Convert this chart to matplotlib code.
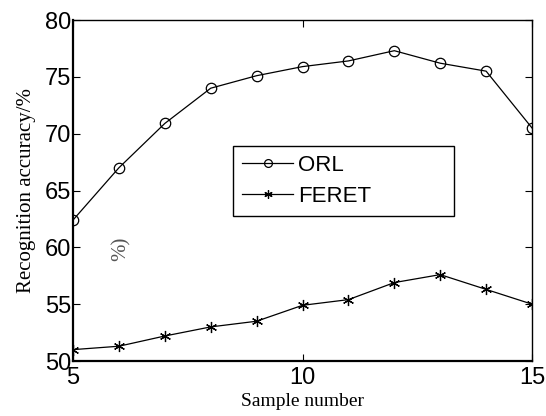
import matplotlib
matplotlib.use('Agg')
import matplotlib.pyplot as plt

# data
samples = [5, 6, 7, 8, 9, 10, 11, 12, 13, 14, 15]
orl = [62.4, 67.0, 70.9, 74.0, 75.1, 75.9, 76.4, 77.3, 76.2, 75.5, 70.5]
feret = [51.0, 51.3, 52.2, 53.0, 53.5, 54.9, 55.4, 56.9, 57.6, 56.3, 55.0]

xticks = [5, 10, 15]
yticks = [50, 55, 60, 65, 70, 75, 80]

fig = plt.figure(figsize=(5.46, 4.16), dpi=100)
ax = fig.add_axes([0.1337, 0.1322, 0.8407, 0.8197])

ax.plot(samples, orl, color='black', lw=0.9, marker='o', ms=7.5,
        mfc='none', mec='black', mew=0.9, label='ORL')
ax.plot(samples, feret, color='black', lw=0.9, marker=(6, 2, 0), ms=8,
        mfc='black', mec='black', mew=0.9, label='FERET')

ax.set_xlim(5, 15)
ax.set_ylim(50, 80)
ax.set_xticks(xticks)
ax.set_yticks(yticks)
ax.tick_params(direction='in', length=5, width=0.8, top=True, right=True,
               labelsize=17)
ax.tick_params(axis='x', pad=4)
ax.tick_params(axis='y', pad=1)
for lab in ax.get_xticklabels() + ax.get_yticklabels():
    lab.set_family('Liberation Sans')

for side in ['left', 'bottom']:
    ax.spines[side].set_linewidth(1.6)
for side in ['top', 'right']:
    ax.spines[side].set_linewidth(1.0)

ax.set_xlabel('Sample number', family='Liberation Serif', fontsize=14, labelpad=3)
ax.set_ylabel('Recognition accuracy/%', family='Liberation Serif', fontsize=15,
              labelpad=7)

leg = ax.legend(loc='lower left', bbox_to_anchor=(0.349, 0.425, 0.481, 0.2),
                mode='expand', borderaxespad=0,
                prop={'family': 'Liberation Sans', 'size': 16},
                fancybox=False, edgecolor='black', framealpha=1,
                handlelength=2.3, handletextpad=0.2, borderpad=0.4,
                labelspacing=0.45, markerscale=0.75)
leg.get_frame().set_linewidth(1.0)

# stray mark left over in the source figure
ax.text(0.105, 0.33, '%)', transform=ax.transAxes, rotation=90, color='#555555',
        family='Liberation Serif', fontsize=15, ha='center', va='center')

fig.savefig('out.png', dpi=100)
